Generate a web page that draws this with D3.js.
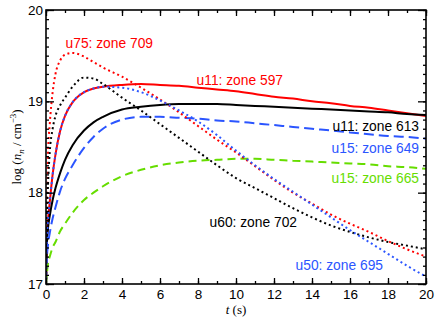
<!DOCTYPE html>
<html>
<head>
<meta charset="utf-8">
<script src="https://cdn.jsdelivr.net/npm/d3@7"></script>
<style>
  body { margin: 0; background: #fff; }
  text { font-family: Helvetica, Arial, "Liberation Sans", sans-serif; }
</style>
</head>
<body>
<script>
// time samples (s) and log densities for each zone
var t = [0, 0.05, 0.1, 0.2, 0.35, 0.5, 0.75, 1, 1.4, 2, 2.5, 3, 4, 5, 6, 7, 8, 9, 10, 11, 12, 13, 14, 15, 16, 17, 18, 19, 20];

var u11_597 = [17.0, 17.5, 17.68, 17.9, 18.2, 18.42, 18.68, 18.84, 18.99, 19.1, 19.14, 19.16, 19.18, 19.19, 19.18, 19.17, 19.15, 19.13, 19.11, 19.08, 19.05, 19.03, 19.0, 18.98, 18.95, 18.93, 18.9, 18.87, 18.84];
var u11_613 = [17.0, 17.45, 17.6, 17.75, 17.92, 18.05, 18.22, 18.36, 18.52, 18.68, 18.77, 18.83, 18.91, 18.94, 18.96, 18.97, 18.97, 18.97, 18.96, 18.95, 18.94, 18.93, 18.92, 18.91, 18.9, 18.89, 18.88, 18.86, 18.85];
var u15_649 = [17.0, 17.3, 17.42, 17.56, 17.72, 17.84, 18.02, 18.15, 18.3, 18.49, 18.61, 18.7, 18.8, 18.83, 18.83, 18.82, 18.81, 18.79, 18.78, 18.76, 18.74, 18.72, 18.7, 18.68, 18.66, 18.64, 18.62, 18.61, 18.59];
var u15_665 = [17.0, 17.12, 17.22, 17.3, 17.4, 17.46, 17.58, 17.66, 17.78, 17.92, 18.0, 18.07, 18.18, 18.25, 18.3, 18.33, 18.35, 18.36, 18.37, 18.37, 18.36, 18.35, 18.34, 18.33, 18.32, 18.31, 18.29, 18.28, 18.26];
var u75_709 = [17.0, 17.9, 18.4, 18.76, 19.1, 19.3, 19.45, 19.51, 19.53, 19.49, 19.43, 19.37, 19.27, 19.15, 19.02, 18.88, 18.73, 18.58, 18.44, 18.29, 18.14, 18.0, 17.88, 17.76, 17.66, 17.57, 17.47, 17.38, 17.3];
var u60_702 = [17.0, 17.7, 18.05, 18.45, 18.7, 18.84, 18.96, 19.04, 19.16, 19.26, 19.25, 19.19, 19.04, 18.9, 18.75, 18.6, 18.45, 18.3, 18.16, 18.05, 17.94, 17.83, 17.73, 17.64, 17.57, 17.51, 17.46, 17.42, 17.38];
var u50_695 = [17.0, 17.5, 17.68, 17.9, 18.2, 18.42, 18.68, 18.84, 18.99, 19.1, 19.14, 19.16, 19.15, 19.1, 19.01, 18.9, 18.78, 18.63, 18.46, 18.3, 18.15, 18.01, 17.87, 17.73, 17.59, 17.46, 17.33, 17.2, 17.08];

var xTicks = [0, 2, 4, 6, 8, 10, 12, 14, 16, 18, 20];
var yTicks = [17, 18, 19, 20];

var series = [
  {name: 'u11: zone 597', v: u11_597, color: '#ff0000', dash: null, lx: 283, ly: 85},
  {name: 'u11: zone 613', v: u11_613, color: '#000000', dash: null, lx: 419, ly: 131},
  {name: 'u15: zone 649', v: u15_649, color: '#2b55ff', dash: '10,5', lx: 419, ly: 153},
  {name: 'u15: zone 665', v: u15_665, color: '#66dd00', dash: '8,5', lx: 419, ly: 183},
  {name: 'u75: zone 709', v: u75_709, color: '#ff0000', dash: '2,3', lx: 153, ly: 48},
  {name: 'u60: zone 702', v: u60_702, color: '#000000', dash: '2,3', lx: 297, ly: 227},
  {name: 'u50: zone 695', v: u50_695, color: '#2b55ff', dash: '2,3', lx: 383, ly: 270}
];

var W = 436, H = 319;
var pL = 46, pR = 426, pT = 10, pB = 284;

var svg = d3.select('body').append('svg').attr('width', W).attr('height', H);

var x = d3.scaleLinear().domain([0, 20]).range([pL, pR]);
var y = d3.scaleLinear().domain([17, 20]).range([pB, pT]);

svg.append('defs').append('clipPath').attr('id', 'clip')
  .append('rect').attr('x', pL).attr('y', pT).attr('width', pR - pL).attr('height', pB - pT);

var line = d3.line()
  .x(function(d) { return x(d[0]); })
  .y(function(d) { return y(d[1]); })
  .curve(d3.curveMonotoneX);

var plot = svg.append('g').attr('clip-path', 'url(#clip)');

series.forEach(function(s) {
  plot.append('path')
    .datum(t.map(function(tt, i) { return [tt, s.v[i]]; }))
    .attr('d', line)
    .attr('fill', 'none')
    .attr('stroke', s.color)
    .attr('stroke-width', 2)
    .attr('stroke-dasharray', s.dash);

  svg.append('text')
    .attr('x', s.lx).attr('y', s.ly)
    .attr('text-anchor', 'end')
    .attr('font-size', 13.8)
    .attr('fill', s.color)
    .text(s.name);
});

// axes, ticks inward on all four sides
var minorX = d3.range(0, 21, 1);
var minorY = d3.range(17, 20.001, 0.1);

function inward(axis, len) { return axis.tickSizeInner(-len).tickSizeOuter(0).tickFormat(''); }

svg.append('g').attr('transform', 'translate(0,' + pB + ')')
  .call(inward(d3.axisBottom(x).tickValues(minorX), 3));
svg.append('g').attr('transform', 'translate(0,' + pB + ')')
  .call(d3.axisBottom(x).tickValues(xTicks).tickSizeInner(-6).tickSizeOuter(0).tickPadding(5));
svg.append('g').attr('transform', 'translate(0,' + pT + ')')
  .call(inward(d3.axisTop(x).tickValues(minorX), 3));
svg.append('g').attr('transform', 'translate(0,' + pT + ')')
  .call(inward(d3.axisTop(x).tickValues(xTicks), 6));

svg.append('g').attr('transform', 'translate(' + pL + ',0)')
  .call(inward(d3.axisLeft(y).tickValues(minorY), 3));
svg.append('g').attr('transform', 'translate(' + pL + ',0)')
  .call(d3.axisLeft(y).tickValues(yTicks).tickSizeInner(-8).tickSizeOuter(0).tickPadding(3).tickFormat(d3.format('d')));
svg.append('g').attr('transform', 'translate(' + pR + ',0)')
  .call(inward(d3.axisRight(y).tickValues(minorY), 3));
svg.append('g').attr('transform', 'translate(' + pR + ',0)')
  .call(inward(d3.axisRight(y).tickValues(yTicks), 8));

svg.selectAll('.domain').remove();
svg.selectAll('.tick line').attr('stroke', '#000').attr('stroke-width', 1.3);
svg.selectAll('.tick text').attr('font-size', 13.5).attr('fill', '#000')
  .attr('font-family', 'Helvetica, Arial, "Liberation Sans", sans-serif');

svg.append('rect')
  .attr('x', pL).attr('y', pT).attr('width', pR - pL).attr('height', pB - pT)
  .attr('fill', 'none').attr('stroke', '#000').attr('stroke-width', 1.6);

// axis titles
var xt = svg.append('text')
  .attr('x', x(10)).attr('y', 314)
  .attr('text-anchor', 'middle')
  .attr('font-size', 13)
  .style('font-family', '"Liberation Serif", "Times New Roman", serif');
xt.append('tspan').attr('font-style', 'italic').text('t');
xt.append('tspan').text(' (s)');

var yt = svg.append('text')
  .attr('transform', 'translate(21,' + ((pT + pB) / 2) + ') rotate(-90)')
  .attr('text-anchor', 'middle')
  .attr('font-size', 13)
  .style('font-family', '"Liberation Serif", "Times New Roman", serif');
yt.append('tspan').text('log (');
yt.append('tspan').attr('font-style', 'italic').text('n');
yt.append('tspan').attr('font-style', 'italic').attr('font-size', 9).attr('dy', 3).text('n');
yt.append('tspan').attr('dy', -3).text(' / cm');
yt.append('tspan').attr('font-size', 9).attr('dy', -5).text('\u22123');
yt.append('tspan').attr('dy', 5).text(')');
</script>
</body>
</html>
